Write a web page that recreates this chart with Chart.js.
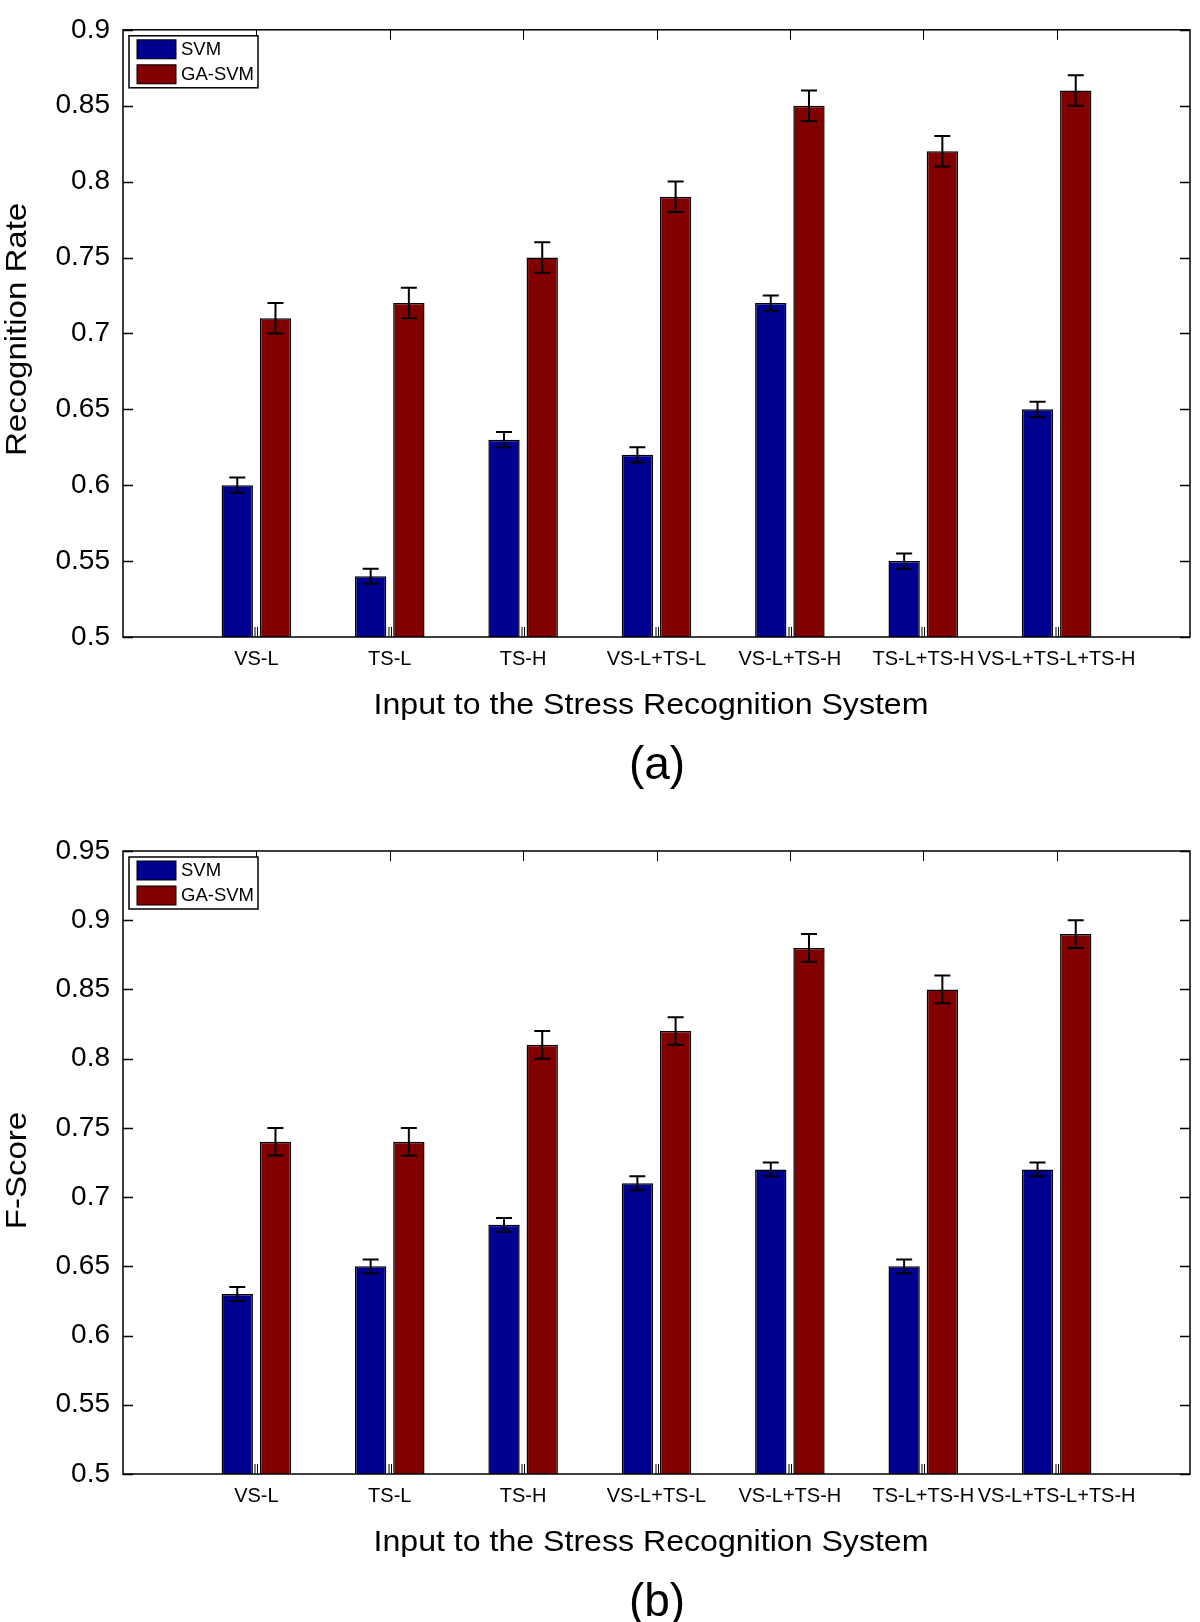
<!DOCTYPE html>
<html>
<head>
<meta charset="utf-8">
<script src="https://cdn.jsdelivr.net/npm/chart.js@4.4.1/dist/chart.umd.min.js"></script>
<style>
  html, body { margin: 0; padding: 0; background: #fff; }
  .panel { position: absolute; left: 0; width: 1200px; height: 811px; }
  #panelA { top: 0; }
  #panelB { top: 811px; }
</style>
</head>
<body>
<div class="panel" id="panelA"><canvas id="chartA"></canvas></div>
<div class="panel" id="panelB"><canvas id="chartB"></canvas></div>
<script>
// categories / series
const categories = ['VS-L', 'TS-L', 'TS-H', 'VS-L+TS-L', 'VS-L+TS-H', 'TS-L+TS-H', 'VS-L+TS-L+TS-H'];
const seriesNames = ['SVM', 'GA-SVM'];
const seriesColors = ['#00008f', '#800000'];
const xTitle = 'Input to the Stress Recognition System';

// (a) recognition rate
const rateSvm = [0.60, 0.54, 0.63, 0.62, 0.72, 0.55, 0.65];
const rateGaSvm = [0.71, 0.72, 0.75, 0.79, 0.85, 0.82, 0.86];
const rateSvmErr = [0.005, 0.005, 0.005, 0.005, 0.005, 0.005, 0.005];
const rateGaSvmErr = [0.01, 0.01, 0.01, 0.01, 0.01, 0.01, 0.01];
const rateTicks = [0.5, 0.55, 0.6, 0.65, 0.7, 0.75, 0.8, 0.85, 0.9];

// (b) f-score
const fSvm = [0.63, 0.65, 0.68, 0.71, 0.72, 0.65, 0.72];
const fGaSvm = [0.74, 0.74, 0.81, 0.82, 0.88, 0.85, 0.89];
const fSvmErr = [0.005, 0.005, 0.005, 0.005, 0.005, 0.005, 0.005];
const fGaSvmErr = [0.01, 0.01, 0.01, 0.01, 0.01, 0.01, 0.01];
const fTicks = [0.5, 0.55, 0.6, 0.65, 0.7, 0.75, 0.8, 0.85, 0.9, 0.95];

const FONT = '"Liberation Sans", Arial, Helvetica, sans-serif';
Chart.defaults.font.family = FONT;
Chart.defaults.color = '#000';

// slightly widened text, like the figure export
function stretchedText(ctx, text, x, y, size, sx, rot) {
  ctx.save();
  ctx.translate(x, y);
  if (rot) ctx.rotate(rot);
  ctx.scale(sx, 1);
  ctx.font = size + 'px ' + FONT;
  ctx.textAlign = 'center';
  ctx.textBaseline = 'alphabetic';
  ctx.fillStyle = '#000';
  ctx.fillText(text, 0, 0);
  ctx.restore();
}

// box, inward ticks, error bars, legend, titles
const matlabLook = {
  id: 'matlabLook',
  afterDatasetsDraw(chart, args, opts) {
    const { ctx, chartArea: a, scales: { x, y } } = chart;
    ctx.save();
    ctx.strokeStyle = '#000';
    ctx.lineWidth = 1.5;
    ctx.strokeRect(a.left, a.top, a.right - a.left, a.bottom - a.top);

    ctx.beginPath();
    y.ticks.forEach(t => {
      const py = Math.round(y.getPixelForValue(t.value)) + 0.5;
      ctx.moveTo(a.left, py); ctx.lineTo(a.left + 10, py);
      ctx.moveTo(a.right, py); ctx.lineTo(a.right - 10, py);
    });
    ctx.stroke();

    ctx.lineWidth = 1;
    ctx.beginPath();
    categories.forEach((c, i) => {
      const px = Math.round(x.getPixelForValue(i + 1));
      ctx.moveTo(px + 0.5, a.top); ctx.lineTo(px + 0.5, a.top + 10);
      ctx.moveTo(px - 1, a.bottom); ctx.lineTo(px - 1, a.bottom - 10);
      ctx.moveTo(px + 1.5, a.bottom); ctx.lineTo(px + 1.5, a.bottom - 10);
    });
    ctx.stroke();

    // error bars
    ctx.lineWidth = 2;
    ctx.beginPath();
    chart.data.datasets.forEach((ds, di) => {
      const meta = chart.getDatasetMeta(di);
      meta.data.forEach((bar, i) => {
        const v = ds.data[i].y, e = ds.errors[i];
        const top = y.getPixelForValue(v + e), bot = y.getPixelForValue(v - e);
        ctx.moveTo(bar.x, top); ctx.lineTo(bar.x, bot);
        ctx.moveTo(bar.x - 8, top); ctx.lineTo(bar.x + 8, top);
        ctx.moveTo(bar.x - 8, bot); ctx.lineTo(bar.x + 8, bot);
      });
    });
    ctx.stroke();

    // legend
    const lx = a.left + 6, ly = a.top + 6, lw = 129, lh = 52;
    ctx.fillStyle = '#fff';
    ctx.fillRect(lx, ly, lw, lh);
    ctx.lineWidth = 1.5;
    ctx.strokeRect(lx, ly, lw, lh);
    ctx.font = '18.5px ' + FONT;
    ctx.textBaseline = 'middle';
    ctx.textAlign = 'left';
    chart.data.datasets.forEach((ds, di) => {
      const sy = ly + 4 + di * 25;
      ctx.fillStyle = ds.backgroundColor;
      ctx.fillRect(lx + 8, sy, 39, 19);
      ctx.lineWidth = 1;
      ctx.strokeRect(lx + 8, sy, 39, 19);
      ctx.fillStyle = '#000';
      ctx.fillText(ds.label, lx + 52, sy + 10);
    });
    ctx.restore();

    // axis titles and panel letter
    stretchedText(ctx, xTitle, 651, a.bottom + 77, 30, 1.07, 0);
    stretchedText(ctx, opts.yTitle, 26, (a.top + a.bottom) / 2 + opts.yShift, 30, 1.1, -Math.PI / 2);
    stretchedText(ctx, opts.letter, 657, a.bottom + 142, 46, 1, 0);
  }
};

function buildChart(canvasId, cfg) {
  const canvasH = 811;
  const xH = canvasH - (cfg.plotTop + cfg.plotH);
  const datasets = cfg.series.map((vals, si) => ({
    label: seriesNames[si],
    data: vals.map((v, i) => ({ x: i + 1, y: v })),
    errors: cfg.errors[si],
    backgroundColor: seriesColors[si],
    borderColor: '#000',
    borderWidth: 1.5,
    borderSkipped: false,
    categoryPercentage: 0.573,
    barPercentage: 0.82
  }));
  return new Chart(document.getElementById(canvasId), {
    type: 'bar',
    data: { datasets },
    plugins: [matlabLook],
    options: {
      responsive: true,
      maintainAspectRatio: false,
      animation: false,
      layout: { padding: { top: cfg.plotTop, right: 2, left: 0, bottom: 0 } },
      plugins: {
        legend: { display: false },
        tooltip: { enabled: false },
        matlabLook: { letter: cfg.letter, yTitle: cfg.yTitle, yShift: cfg.yShift }
      },
      scales: {
        x: {
          type: 'linear',
          offset: false,
          min: 0, max: categories.length + 1,
          grid: { display: false, drawTicks: false, offset: false },
          border: { display: false },
          afterBuildTicks: s => { s.ticks = [0, 1, 2, 3, 4, 5, 6, 7, 8].map(v => ({ value: v })); },
          afterFit: s => { s.height = xH; },
          ticks: {
            autoSkip: false, maxRotation: 0, minRotation: 0, padding: 10,
            font: { size: 20 },
            callback: v => categories[v - 1] || ''
          }
        },
        y: {
          min: cfg.yTicks[0], max: cfg.yTicks[cfg.yTicks.length - 1],
          grid: { display: false, drawTicks: false },
          border: { display: false },
          afterBuildTicks: s => { s.ticks = cfg.yTicks.map(v => ({ value: v })); },
          afterFit: s => { s.width = 123; },
          ticks: {
            padding: 13,
            font: { size: 28 },
            callback: v => String(Math.round(v * 100) / 100)
          }
        }
      }
    }
  });
}

buildChart('chartA', {
  series: [rateSvm, rateGaSvm],
  errors: [rateSvmErr, rateGaSvmErr],
  yTicks: rateTicks,
  yTitle: 'Recognition Rate',
  yShift: -4,
  letter: '(a)',
  plotTop: 13, plotH: 624
});

buildChart('chartB', {
  series: [fSvm, fGaSvm],
  errors: [fSvmErr, fGaSvmErr],
  yTicks: fTicks,
  yTitle: 'F-Score',
  yShift: 8,
  letter: '(b)',
  plotTop: 40, plotH: 623
});
</script>
</body>
</html>
